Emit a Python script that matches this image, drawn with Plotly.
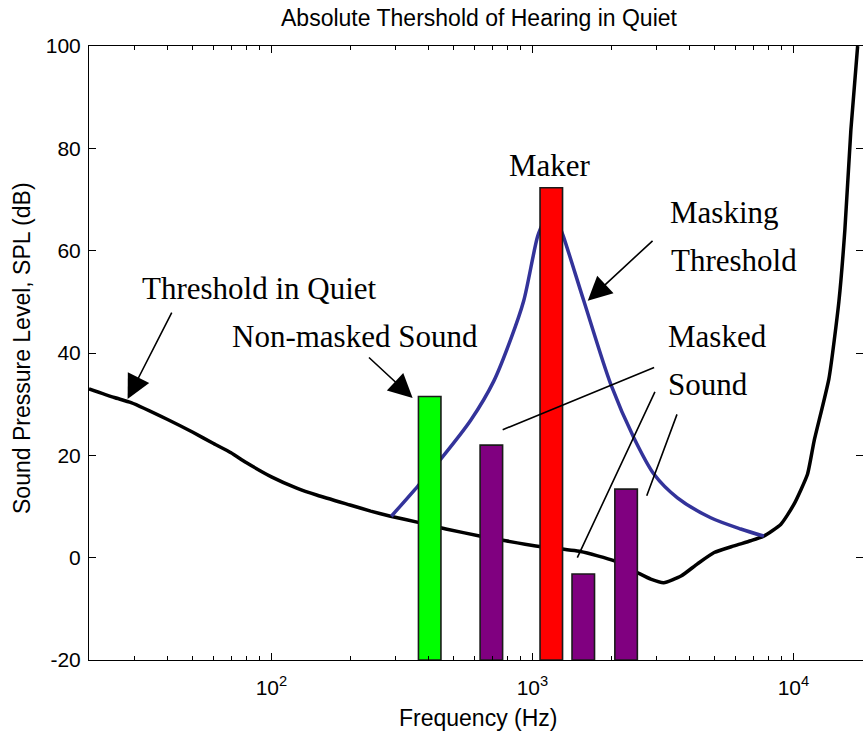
import numpy as np
import plotly.graph_objects as go

# ---- data ----
quiet_freq = [20, 25, 29, 40, 50, 60, 70, 80, 100, 125, 150, 200, 240, 286, 372, 466, 634, 790,
              1030, 1530, 2050, 2520, 2840, 3185, 3710, 4290, 4970, 5920, 6860, 7690,
              8940, 10040, 11320, 12000, 13680, 14930, 15740, 16600, 17620]
quiet_db = [33.0, 31.3, 30.3, 27.0, 24.5, 22.3, 20.5, 18.6, 15.8, 13.6, 12.2, 10.3, 9.1, 8.1,
            6.8, 5.6, 4.2, 3.3, 2.3, 1.2, -0.6, -2.9, -4.2, -4.9, -3.6, -1.2, 1.0, 2.3,
            3.3, 4.2, 6.5, 10.4, 16.3, 22.8, 35.0, 50.0, 64.0, 83.6, 100.0]

# masking threshold: lower (left) and upper (right) slopes; the top is hidden by the masker
mask_left_freq = [288, 364, 446, 581, 711, 826, 926, 1047, 1100]
mask_left_db = [8.1, 14.0, 19.3, 26.9, 34.5, 42.7, 50.2, 62.8, 65.5]
mask_right_freq = [1265, 1314, 1573, 1995, 2449, 2924, 3594, 4820, 6280, 7710]
mask_right_db = [65.0, 62.8, 50.2, 33.9, 23.4, 16.3, 11.7, 7.8, 5.6, 4.2]

nonmasked_freq = [404]
nonmasked_db = [31.5]
masker_freq = [1181]
masker_db = [72.3]
masked_freq = [696, 1566, 2285]
masked_db = [22.0, -3.2, 13.4]

bar_halfwidth_decades = 0.0431
y_floor = -20

x_tickvals = [100, 1000, 10000]
x_ticktext = ["10<sup>2</sup>", "10<sup>3</sup>", "10<sup>4</sup>"]
y_tickvals = [-20, 0, 20, 40, 60, 80, 100]
y_ticktext = ["-20", "0", "20", "40", "60", "80", "100"]
minor_vals = [m * 10 ** d for d in range(1, 5) for m in range(2, 10)]


def bar_polys(freqs, tops):
    k = 10 ** bar_halfwidth_decades
    xs, ys = [], []
    for f, t in zip(freqs, tops):
        xs += [f / k, f / k, f * k, f * k, f / k, None]
        ys += [y_floor, t, t, y_floor, y_floor, None]
    return xs, ys


fig = go.Figure()
fig.add_trace(go.Scatter(x=quiet_freq, y=quiet_db, mode="lines",
                         line=dict(color="black", width=3.5, shape="spline", smoothing=0.5),
                         showlegend=False))
for mf, md in [(mask_left_freq, mask_left_db), (mask_right_freq, mask_right_db)]:
    fig.add_trace(go.Scatter(x=mf, y=md, mode="lines",
                             line=dict(color="#33339a", width=3.5, shape="spline",
                                       smoothing=0.8),
                             showlegend=False))
for fr, db, col in [(nonmasked_freq, nonmasked_db, "#00ff00"),
                    (masker_freq, masker_db, "#ff0000"),
                    (masked_freq, masked_db, "#800080")]:
    bx, by = bar_polys(fr, db)
    fig.add_trace(go.Scatter(x=bx, y=by, mode="lines", fill="toself", fillcolor=col,
                             line=dict(color="#1a1a1a", width=1.6), showlegend=False))
# invisible trace carrying the minor-tick axis
fig.add_trace(go.Scatter(x=[100], y=[0], xaxis="x2", mode="markers",
                         marker=dict(opacity=0), hoverinfo="skip", showlegend=False))

L = np.log10
serif = dict(family="Liberation Serif, Times New Roman, serif", size=31, color="black")
ann = []
for txt, f, db, xa in [("Threshold in Quiet", 10 ** 1.956, 52.7, "center"),
                       ("Non-masked Sound", 10 ** 1.841, 43.2, "left"),
                       ("Maker", 10 ** 3.069, 76.6, "center"),
                       ("Masking", 10 ** 3.519, 67.4, "left"),
                       ("Threshold", 10 ** 3.523, 58.1, "left"),
                       ("Masked", 10 ** 3.511, 43.3, "left"),
                       ("Sound", 10 ** 3.511, 33.9, "left")]:
    ann.append(dict(text=txt, x=L(f), y=db, xref="x", yref="y", xanchor=xa, yanchor="middle",
                    showarrow=False, font=serif))
for (lx0, y0, lx1, y1, head) in [(1.621, 48.2, 1.449, 31.0, True),
                                 (2.368, 39.4, 2.541, 31.2, True),
                                 (3.466, 62.2, 3.212, 50.2, True),
                                 (3.472, 37.3, 2.886, 25.0, False),
                                 (3.472, 32.7, 3.172, 0.0, False),
                                 (3.556, 28.3, 3.438, 12.1, False)]:
    ann.append(dict(text="", x=lx1, y=y1, ax=lx0, ay=y0, xref="x", yref="y", axref="x",
                    ayref="y", showarrow=True, arrowhead=2 if head else 0,
                    arrowsize=3.0 if head else 1, arrowwidth=1.6, arrowcolor="black",
                    standoff=0, startstandoff=0))
sans = "Liberation Sans, Arial, sans-serif"
ann.append(dict(text="Frequency (Hz)", x=(478 - 89) / 774, y=-(718 - 660) / 614,
                xref="paper", yref="paper", xanchor="center", yanchor="middle",
                showarrow=False, font=dict(family=sans, size=23, color="black")))
ann.append(dict(text="Sound Pressure Level, SPL (dB)", x=(22 - 89) / 774, y=(660 - 348) / 614,
                xref="paper", yref="paper", xanchor="center", yanchor="middle",
                showarrow=False, textangle=-90,
                font=dict(family=sans, size=23, color="black")))

xrange = [L(20), L(20) + 774 / 261]
fig.update_layout(
    width=863, height=733,
    margin=dict(l=89, r=0, t=46, b=73),
    paper_bgcolor="white", plot_bgcolor="white",
    title=dict(text="Absolute Thershold of Hearing in Quiet", x=479 / 863, xanchor="center",
               y=1 - 18 / 733, yanchor="middle", font=dict(family=sans, size=23, color="black")),
    annotations=ann,
    showlegend=False,
    xaxis=dict(type="log", range=xrange, showgrid=False, zeroline=False,
               showline=True, linecolor="black", linewidth=1, mirror="ticks",
               ticks="inside", ticklen=7, tickcolor="black", tickwidth=1,
               tickmode="array", tickvals=x_tickvals, ticktext=x_ticktext,
               tickfont=dict(family=sans, size=21, color="black"), ticklabelstandoff=9),
    xaxis2=dict(type="log", range=xrange, overlaying="x", anchor="y", side="bottom",
                showgrid=False, zeroline=False, showline=True, linecolor="black",
                linewidth=1, mirror="ticks", ticks="inside", ticklen=4, tickcolor="black",
                tickwidth=1, tickmode="array", tickvals=minor_vals, showticklabels=False),
    yaxis=dict(range=[-20, 100], showgrid=False, zeroline=False,
               showline=True, linecolor="black", linewidth=1, mirror="ticks",
               ticks="inside", ticklen=7, tickcolor="black", tickwidth=1,
               tickmode="array", tickvals=y_tickvals, ticktext=y_ticktext,
               tickfont=dict(family=sans, size=21, color="black"), ticklabelstandoff=3),
)

fig.write_html("out.html")
